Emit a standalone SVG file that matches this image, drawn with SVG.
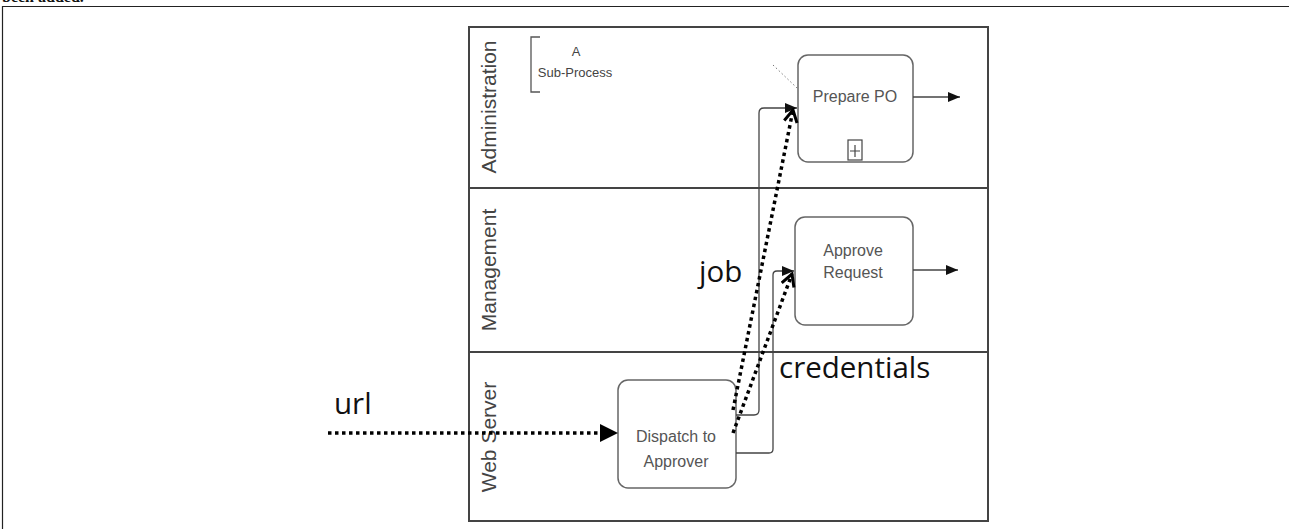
<svg xmlns="http://www.w3.org/2000/svg" width="1289" height="529" viewBox="0 0 1289 529">
  <style>
    .frame { fill: none; stroke: #222; stroke-width: 1.2; }
    .pool { fill: #fff; stroke: #444; stroke-width: 2; }
    .lane-line { stroke: #444; stroke-width: 2; }
    .lane-label { font-family: "Liberation Sans", Arial, sans-serif; font-size: 21px; fill: #444; text-anchor: middle; }
    .task { fill: #fff; stroke: #666; stroke-width: 1.5; }
    .task-text { font-family: "Liberation Sans", Arial, sans-serif; font-size: 16px; fill: #555; text-anchor: middle; }
    .flow { fill: none; stroke: #444; stroke-width: 1.3; }
    .data { fill: none; stroke: #000; stroke-width: 3.5; stroke-dasharray: 3.5 3.5; }
    .big-label { font-family: "Open Sans", "Noto Sans", sans-serif; font-size: 29.5px; fill: #111; }
    .note { font-family: "Liberation Sans", Arial, sans-serif; font-size: 13px; fill: #444; text-anchor: middle; }
  </style>
  <defs>
    <marker id="flowhead" viewBox="0 0 12 10" refX="12" refY="5" markerWidth="12" markerHeight="10" markerUnits="userSpaceOnUse" orient="auto">
      <path d="M0,0 L12,5 L0,10 Z" fill="#111"/>
    </marker>
    <marker id="openhead" viewBox="0 0 16 16" refX="14" refY="8" markerWidth="16" markerHeight="16" markerUnits="userSpaceOnUse" orient="auto">
      <path d="M2,1.5 L14,8 L2,14.5" fill="none" stroke="#000" stroke-width="3"/>
    </marker>
  </defs>

  <rect width="1289" height="529" fill="#fff"/>

  <!-- caption line running off the top of the page -->
  <text x="2" y="2" font-family="Liberation Serif, serif" font-weight="bold" font-size="16" fill="#111">been added.</text>

  <!-- page frame -->
  <path class="frame" d="M2.5,529 L2.5,6.5 L1289,6.5"/>

  <!-- pool with three lanes -->
  <g id="pool">
    <rect class="pool" x="469" y="27" width="519" height="494"/>
    <line class="lane-line" x1="469" y1="188" x2="988" y2="188"/>
    <line class="lane-line" x1="469" y1="352" x2="988" y2="352"/>
  </g>
  <g id="lane-administration">
    <text class="lane-label" transform="translate(496,107) rotate(-90)">Administration</text>
  </g>
  <g id="lane-management">
    <text class="lane-label" transform="translate(496,270) rotate(-90)">Management</text>
  </g>
  <g id="lane-webserver">
    <text class="lane-label" transform="translate(496,437) rotate(-90)">Web Server</text>
  </g>

  <!-- annotation -->
  <g id="annotation">
    <path d="M540,37 L531,37 L531,92 L540,92" fill="none" stroke="#555" stroke-width="1.3"/>
    <text class="note" x="576" y="56">A</text>
    <text class="note" x="575" y="77">Sub-Process</text>
    <line x1="773" y1="65" x2="797" y2="88" stroke="#777" stroke-width="1" stroke-dasharray="1.5 2.5"/>
  </g>

  <!-- tasks -->
  <g id="prepare-po">
    <rect class="task" x="798" y="55" width="115" height="107" rx="10"/>
    <text class="task-text" x="855" y="102">Prepare PO</text>
    <rect x="848" y="140" width="14" height="20" fill="#fff" stroke="#444" stroke-width="1.2"/>
    <path d="M850,151 L860,151 M855,145 L855,157" stroke="#444" stroke-width="1.2"/>
  </g>
  <g id="approve-request">
    <rect class="task" x="795" y="217" width="118" height="108" rx="10"/>
    <text class="task-text" x="853" y="256">Approve</text>
    <text class="task-text" x="853" y="278">Request</text>
  </g>
  <g id="dispatch-to-approver">
    <rect class="task" x="618" y="380" width="118" height="108" rx="10"/>
    <text class="task-text" x="676" y="442">Dispatch to</text>
    <text class="task-text" x="676" y="467">Approver</text>
  </g>

  <!-- connectors -->
  <g id="connectors">
    <path class="flow" d="M913,97 L960,97" marker-end="url(#flowhead)"/>
    <path class="flow" d="M913,270 L958,270" marker-end="url(#flowhead)"/>
    <path class="flow" d="M736,415 L754,415 Q759,415 759,410 L759,113 Q759,108 764,108 L797,108" marker-end="url(#flowhead)"/>
    <path class="flow" d="M736,453 L769,453 Q773,453 773,449 L773,275 Q773,271 777,271 L794,271" marker-end="url(#flowhead)"/>

    <path class="data" d="M328,433 L602,433"/>
    <path d="M600,424 L618,433 L600,442 Z" fill="#000"/>
    <path class="data" d="M733,410 L793,110" marker-end="url(#openhead)"/>
    <path class="data" d="M733,433 L792,274" marker-end="url(#openhead)"/>
  </g>

  <!-- data labels -->
  <text class="big-label" x="334" y="414">url</text>
  <text class="big-label" x="699" y="282">job</text>
  <text class="big-label" x="779" y="378">credentials</text>
</svg>
